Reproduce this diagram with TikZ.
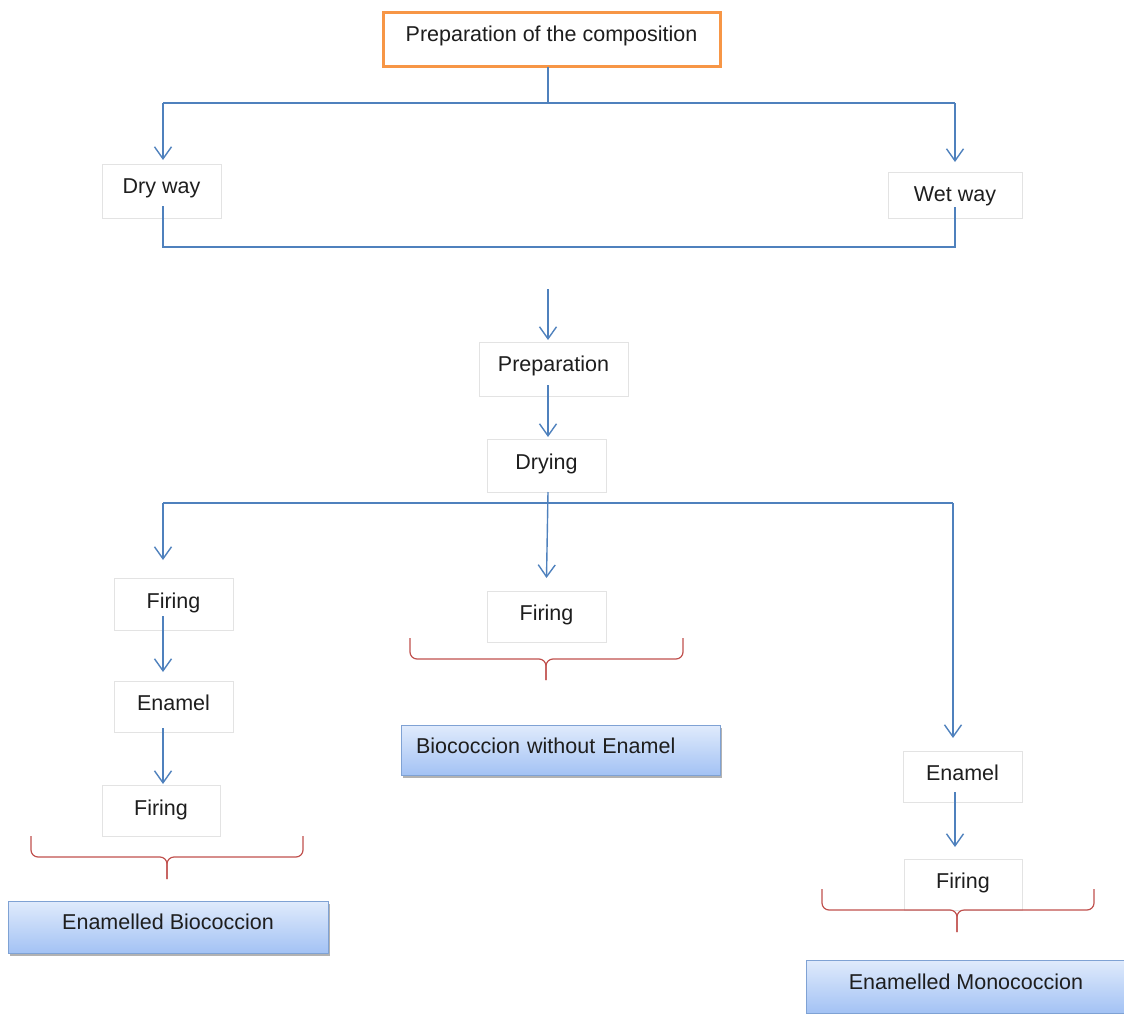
\documentclass[tikz,border=0pt]{standalone}
\usepackage{fontspec}
\setmainfont{Liberation Sans}
\usetikzlibrary{arrows.meta,shadows}

\definecolor{linkblue}{HTML}{4F81BD}
\definecolor{bracered}{HTML}{C0504D}
\definecolor{boxgray}{HTML}{E3E3E3}
\definecolor{toporange}{HTML}{F79646}
\definecolor{restop}{HTML}{E0EBFC}
\definecolor{resbot}{HTML}{A3C2F4}
\definecolor{resedge}{HTML}{7FA2D4}
\definecolor{ink}{HTML}{1E1E1E}

\tikzset{
  txt/.style={font=\fontsize{21.5}{24}\selectfont, text=ink},
  stepbox/.style={txt, draw=boxgray, line width=0.8pt, fill=white,
    inner xsep=0pt, inner ysep=0pt, outer sep=0pt, anchor=north west},
  startbox/.style={stepbox, draw=toporange, line width=3pt},
  resultbox/.style={stepbox, draw=resedge, top color=restop, bottom color=resbot,
    drop shadow={shadow xshift=1.5pt, shadow yshift=-3pt, fill=black, opacity=0.3}},
  link/.style={draw=linkblue, line width=1.4pt},
  arr/.style={link, -{Straight Barb[length=12pt, width=17pt, line width=1.4pt]}},
  bracket/.style={draw=bracered, line width=1.2pt, rounded corners=7pt},
}

\begin{document}
\begin{tikzpicture}[x=1pt, y=-1pt]
\useasboundingbox (0,0) rectangle (1124,1014);

% process steps
\node[startbox, minimum width=337pt, text height=29pt, text depth=25pt] (top) at (383,13) {Preparation of the composition};
\node[stepbox, minimum width=119pt, text height=29pt, text depth=25pt] (dry) at (102,164) {Dry way};
\node[stepbox, minimum width=134pt, text height=29pt, text depth=17pt] (wet) at (888,172) {Wet way};
\node[stepbox, minimum width=149pt, text height=29pt, text depth=25pt] (prep) at (479,342) {Preparation};
\node[stepbox, minimum width=119pt, text height=30pt, text depth=23pt] (drying) at (487,439) {Drying};

\node[stepbox, minimum width=119pt, text height=30pt, text depth=22pt] (fireA) at (114,578) {Firing};
\node[stepbox, minimum width=119pt, text height=29pt, text depth=22pt] (enamelA) at (114,681) {Enamel};
\node[stepbox, minimum width=118pt, text height=30pt, text depth=21pt] (fireB) at (102,785) {Firing};

\node[stepbox, minimum width=119pt, text height=29pt, text depth=22pt] (fireM) at (487,591) {Firing};

\node[stepbox, minimum width=119pt, text height=29pt, text depth=22pt] (enamelR) at (903,751) {Enamel};
\node[stepbox, minimum width=118pt, text height=29pt, text depth=22pt] (fireR) at (904,859) {Firing};

% products
\node[resultbox, minimum width=320pt, text height=28pt, text depth=24pt] (resA) at (8,901) {Enamelled Biococcion};
\node[resultbox, text width=289pt, align=left, inner xsep=15pt, text height=28pt, text depth=22pt] (resM) at (401,725) {Biococcion without Enamel};
\node[resultbox, minimum width=320pt, text height=29pt, text depth=24pt] (resR) at (806,960) {Enamelled Monococcion};

% junction points
\coordinate (busA) at (548,103);
\coordinate (busAL) at (163,103);
\coordinate (busAR) at (955,103);
\coordinate (mergeL) at (163,247);
\coordinate (mergeR) at (955,247);
\coordinate (mergeOut) at (548,289);
\coordinate (busBL) at (163,503);
\coordinate (busBR) at (953,503);

% split into the two ways
\draw[link] (top.south -| busA) -- (busA);
\draw[link] (busAL) -- (busAR);
\draw[arr] (busAL) -- ([yshift=4pt]dry.north -| busAL);
\draw[arr] (busAR) -- ([yshift=10pt]wet.north -| busAR);

% rejoin
\draw[link] ([yshift=12pt]dry.south -| mergeL) -- (mergeL) -- (mergeR) -- ([yshift=11pt]wet.south -| mergeR);
\draw[arr] (mergeOut) -- ([yshift=2pt]prep.north -| mergeOut);
\draw[arr] ([yshift=11pt]prep.south -| mergeOut) -- ([yshift=2pt]drying.north -| mergeOut);

% split into the three routes
\draw[link] (busBL) -- (busBR);
\draw[arr] (drying.south -| mergeOut) -- ([yshift=13pt]fireM.north);

\draw[arr] (busBL) -- ([yshift=18pt]fireA.north -| busBL);
\draw[arr] ([yshift=14pt]fireA.south -| busBL) -- ([yshift=9pt]enamelA.north -| busBL);
\draw[arr] ([yshift=4pt]enamelA.south -| busBL) -- ([yshift=1pt]fireB.north -| busBL);

\draw[arr] (busBR) -- ([yshift=13pt]enamelR.north -| busBR);
\draw[arr] ([yshift=10pt]enamelR.south -| mergeR) -- ([yshift=12pt]fireR.north -| mergeR);

% braces
\draw[bracket] (31,836) -- (31,857) -- (167,857) -- (167,879);
\draw[bracket] (303,836) -- (303,857) -- (167,857) -- (167,879);

\draw[bracket] (410,638) -- (410,659) -- (546,659) -- (546,680);
\draw[bracket] (683,638) -- (683,659) -- (546,659) -- (546,680);

\draw[bracket] (822,889) -- (822,910) -- (957,910) -- (957,932);
\draw[bracket] (1094,889) -- (1094,910) -- (957,910) -- (957,932);
\end{tikzpicture}
\end{document}
